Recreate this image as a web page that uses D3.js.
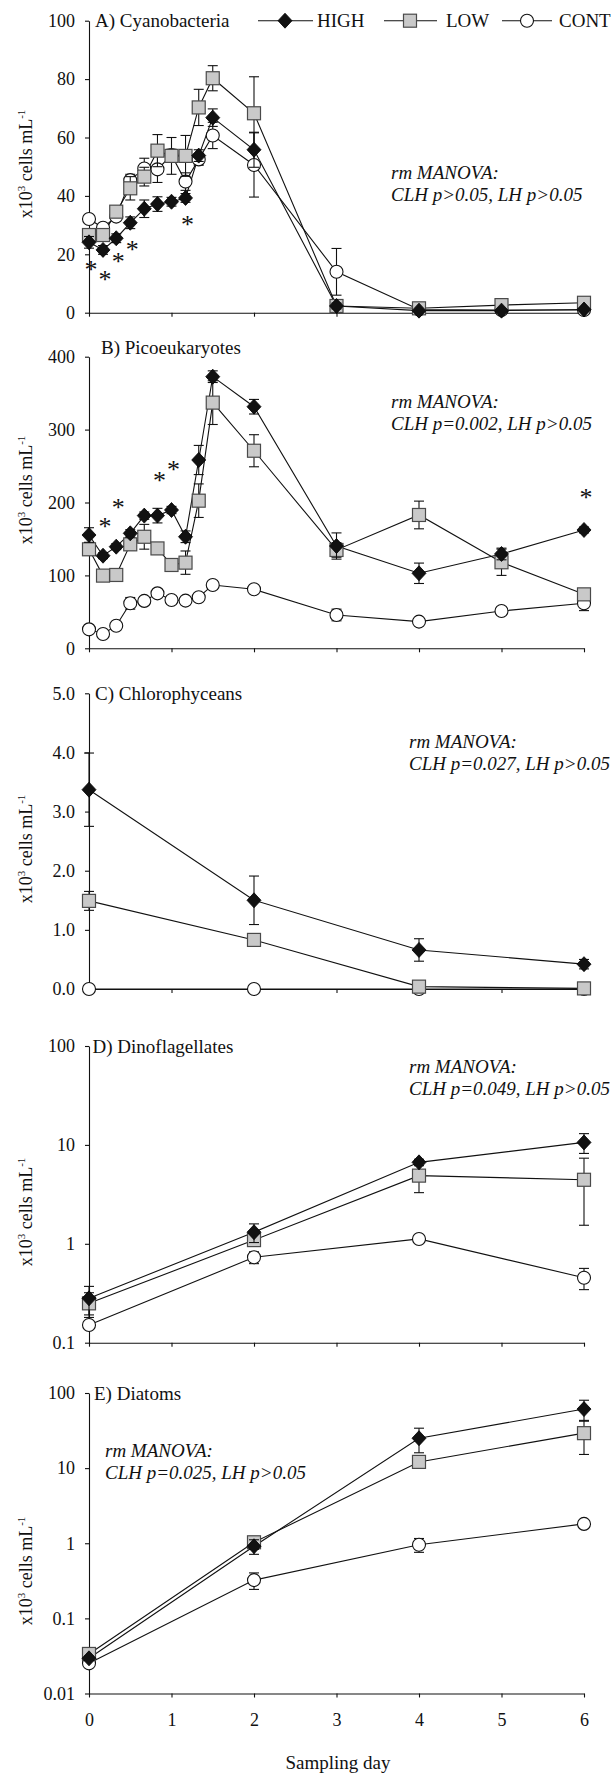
<!DOCTYPE html>
<html>
<head>
<meta charset="utf-8">
<script src="https://cdn.jsdelivr.net/npm/d3@7"></script>
<style>
  body { margin: 0; background: #fff; }
  svg { display: block; font-family: "Liberation Serif", "Times New Roman", serif; }
</style>
</head>
<body>
<svg width="614" height="1777"></svg>
<script>
// sampling times (days)
var daysFine = [0, 0.17, 0.33, 0.5, 0.67, 0.83, 1.0, 1.17, 1.33, 1.5, 2, 3, 4, 5, 6];
var daysCoarse = [0, 2, 4, 6];
var dayTicks = [0, 1, 2, 3, 4, 5, 6];

// A) Cyanobacteria, x10^3 cells/mL
var cyanoHigh    = [24.1, 21.5, 25.5, 30.8, 35.6, 37.2, 38.0, 39.3, 53.8, 66.8, 55.8, 2.3, 0.7, 0.7, 1.1];
var cyanoHighErr = [2, 1.5, 1.5, 2, 3, 2.5, 1.5, 1.5, 2, 3, 6, 1, 0.3, 0.3, 0.5];
var cyanoLow     = [26.6, 26.6, 34.6, 42.6, 46.6, 55.5, 53.7, 53.7, 70.3, 80.3, 68.3, 2.3, 1.5, 2.6, 3.4];
var cyanoLowErr  = [2, 2, 1.5, 4, 3.2, 5.5, 6.3, 7, 6.2, 4.3, 12.5, 1, 0.5, 0.5, 0.5];
var cyanoCont    = [32.1, 29.1, 32.9, 45.4, 49.4, 49.1, 54.0, 44.9, 52.5, 60.7, 50.6, 14.0, 1.1, 0.9, 0.9];
var cyanoContErr = [1, 1, 1, 2, 3.5, 4.5, 2, 3, 2, 4.5, 11, 8, 0.3, 0.3, 0.3];
var cyanoStars   = [[0, 16.3], [0.17, 12.9], [0.33, 19.1], [0.5, 23.2], [1.17, 31.7]];

// B) Picoeukaryotes
var picoHigh    = [155.4, 127, 139.4, 157.7, 182, 182, 189.7, 153, 258.3, 372.6, 331.4, 140.3, 102.9, 129.4, 162.3];
var picoHighErr = [10, 4, 4, 5, 5, 10, 5, 8, 20, 8, 10, 18, 14, 8, 4];
var picoLow     = [135.8, 99.7, 100.6, 142.6, 153, 137, 114.3, 117.5, 202.5, 337, 271, 134.9, 182.9, 118, 74];
var picoLowErr  = [8, 4, 4, 8, 17, 8, 5, 16, 23, 30, 22, 10, 19, 18, 6];
var picoCont    = [26, 19.7, 31, 61.7, 65, 75.4, 66.3, 65.4, 70, 86.9, 80.9, 45.7, 36.6, 51.2, 61.7];
var picoContErr = [2, 2, 2, 8, 3, 3, 3, 3, 3, 3, 3, 8, 3, 3, 10];
var picoStars   = [[0.17, 173.7], [0.33, 199.3], [0.83, 235.7], [1.0, 251.7], [6, 212.6]];

// C) Chlorophyceans
var chloroHigh    = [3.37, 1.5, 0.66, 0.42];
var chloroHighErr = [0.62, 0.41, 0.19, 0.08];
var chloroLow     = [1.49, 0.83, 0.04, 0.01];
var chloroLowErr  = [0.16, 0.03, 0.01, 0.01];
var chloroCont    = [0, 0, 0, 0];
var chloroContErr = [0, 0, 0, 0];

// D) Dinoflagellates
var dinoHigh    = [0.281, 1.31, 6.66, 10.6];
var dinoHighErr = [0.09, 0.28, 0.5, 2.4];
var dinoLow     = [0.25, 1.09, 4.89, 4.44];
var dinoLowErr  = [0.07, 0.1, 1.6, 2.9];
var dinoCont    = [0.151, 0.73, 1.12, 0.454];
var dinoContErr = [0.01, 0.1, 0.05, 0.11];

// E) Diatoms
var diatHigh    = [0.0294, 0.912, 25.0, 61.1];
var diatHighErr = [0.002, 0.2, 9, 19];
var diatLow     = [0.0336, 1.03, 12.1, 29.2];
var diatLowErr  = [0.003, 0.2, 1, 14];
var diatCont    = [0.0252, 0.323, 0.957, 1.81];
var diatContErr = [0.002, 0.08, 0.2, 0.1];

var linTicksA = [0, 20, 40, 60, 80, 100];
var linTicksB = [0, 100, 200, 300, 400];
var linTicksC = [0, 1, 2, 3, 4, 5];
var logTicksD = [0.1, 1, 10, 100];
var logTicksE = [0.01, 0.1, 1, 10, 100];

var svg = d3.select("svg");
var FONT = "Liberation Serif";
var x = d3.scaleLinear().domain([0, 6]).range([89, 584]);

var logFmt = function(d) { return d >= 1 ? d3.format("d")(d) : String(d); };

var panels = [
  { title: "A) Cyanobacteria", titleX: 95, titleY: 26.5,
    y: d3.scaleLinear().domain([0, 100]).range([312.7, 20.7]), ticks: linTicksA, fmt: d3.format("d"),
    days: daysFine, high: cyanoHigh, highErr: cyanoHighErr, low: cyanoLow, lowErr: cyanoLowErr, cont: cyanoCont, contErr: cyanoContErr,
    stars: cyanoStars, stat: "CLH p>0.05, LH p>0.05", statX: 391, statY: 179, yTitle: 164 },
  { title: "B) Picoeukaryotes", titleX: 101, titleY: 353.5,
    y: d3.scaleLinear().domain([0, 400]).range([648.3, 356.7]), ticks: linTicksB, fmt: d3.format("d"),
    days: daysFine, high: picoHigh, highErr: picoHighErr, low: picoLow, lowErr: picoLowErr, cont: picoCont, contErr: picoContErr,
    stars: picoStars, stat: "CLH p=0.002, LH p>0.05", statX: 391, statY: 408, yTitle: 490 },
  { title: "C) Chlorophyceans", titleX: 95, titleY: 700,
    y: d3.scaleLinear().domain([0, 5]).range([989, 693.3]), ticks: linTicksC, fmt: d3.format(".1f"),
    days: daysCoarse, high: chloroHigh, highErr: chloroHighErr, low: chloroLow, lowErr: chloroLowErr, cont: chloroCont, contErr: chloroContErr,
    stars: [], stat: "CLH p=0.027, LH p>0.05", statX: 409, statY: 748, yTitle: 849 },
  { title: "D) Dinoflagellates", titleX: 92.5, titleY: 1052.5,
    y: d3.scaleLog().domain([0.1, 100]).range([1342.7, 1046]), ticks: logTicksD, fmt: logFmt,
    days: daysCoarse, high: dinoHigh, highErr: dinoHighErr, low: dinoLow, lowErr: dinoLowErr, cont: dinoCont, contErr: dinoContErr,
    stars: [], stat: "CLH p=0.049, LH p>0.05", statX: 409, statY: 1073, yTitle: 1212 },
  { title: "E) Diatoms", titleX: 94, titleY: 1399.5,
    y: d3.scaleLog().domain([0.01, 100]).range([1693.5, 1393]), ticks: logTicksE, fmt: logFmt,
    days: daysCoarse, high: diatHigh, highErr: diatHighErr, low: diatLow, lowErr: diatLowErr, cont: diatCont, contErr: diatContErr,
    stars: [], stat: "CLH p=0.025, LH p>0.05", statX: 105, statY: 1457, yTitle: 1571, xLabels: true }
];

function diamondPath(cx, cy) {
  return "M" + cx + "," + (cy - 7.5) + "L" + (cx + 7) + "," + cy + "L" + cx + "," + (cy + 7.5) + "L" + (cx - 7) + "," + cy + "Z";
}

function drawMarker(g, kind, cx, cy) {
  if (kind == "high") {
    g.append("path").attr("d", diamondPath(cx, cy)).attr("fill", "#111").attr("stroke", "#000").attr("stroke-width", 0.8);
  } else if (kind == "low") {
    g.append("rect").attr("x", cx - 6.5).attr("y", cy - 6.5).attr("width", 13).attr("height", 13)
      .attr("fill", "#c9c9c9").attr("stroke", "#4a4a4a").attr("stroke-width", 1.2);
  } else {
    g.append("circle").attr("cx", cx).attr("cy", cy).attr("r", 6.5)
      .attr("fill", "#fff").attr("stroke", "#111").attr("stroke-width", 1.1);
  }
}

panels.forEach(function(p) {
  var g = svg.append("g");
  var y = p.y;
  var yMin = y.domain()[0];

  // axes
  var xa = g.append("g").attr("transform", "translate(0," + y.range()[0] + ")")
    .call(d3.axisBottom(x).tickValues(dayTicks).tickSize(4).tickSizeOuter(0).tickPadding(16)
      .tickFormat(p.xLabels ? d3.format("d") : ""));
  xa.attr("font-family", FONT).attr("font-size", 18);
  var ya = g.append("g").attr("transform", "translate(" + x(0) + ",0)")
    .call(d3.axisLeft(y).tickValues(p.ticks).tickSize(4).tickSizeOuter(0).tickPadding(10).tickFormat(p.fmt));
  ya.attr("font-family", FONT).attr("font-size", 18);
  g.selectAll(".domain, .tick line").attr("stroke", "#111").attr("stroke-width", 1.1);
  g.selectAll(".tick text").attr("fill", "#111");

  // y title
  var yt = g.append("text").attr("transform", "translate(32," + p.yTitle + ") rotate(-90)")
    .attr("text-anchor", "middle").attr("font-size", 18).attr("fill", "#111");
  yt.append("tspan").text("x10");
  yt.append("tspan").attr("font-size", 11).attr("dy", -7).text("3");
  yt.append("tspan").attr("dy", 7).text(" cells mL");
  yt.append("tspan").attr("font-size", 11).attr("dy", -7).text("-1");

  // panel title
  g.append("text").attr("x", p.titleX).attr("y", p.titleY).attr("font-size", 19).attr("fill", "#111").text(p.title);

  // stats
  var st = g.append("text").attr("font-size", 19).attr("font-style", "italic").attr("fill", "#111");
  st.append("tspan").attr("x", p.statX).attr("y", p.statY).text("rm MANOVA:");
  st.append("tspan").attr("x", p.statX).attr("y", p.statY + 22).text(p.stat);

  var series = [
    { kind: "cont", vals: p.cont, errs: p.contErr },
    { kind: "low", vals: p.low, errs: p.lowErr },
    { kind: "high", vals: p.high, errs: p.highErr }
  ];

  var line = d3.line().x(function(d) { return x(d[0]); }).y(function(d) { return y(d[1]); });

  series.forEach(function(s) {
    var pts = p.days.map(function(d, i) { return [d, s.vals[i], s.errs[i]]; });
    g.append("path").datum(pts).attr("d", line).attr("fill", "none").attr("stroke", "#111").attr("stroke-width", 1.1);
  });

  series.forEach(function(s) {
    var sg = g.append("g");
    p.days.forEach(function(d, i) {
      var v = s.vals[i], e = s.errs[i];
      var cx = x(d);
      if (e > 0) {
        var top = y(v + e);
        var bot = y(Math.max(v - e, yMin));
        sg.append("line").attr("x1", cx).attr("x2", cx).attr("y1", top).attr("y2", bot).attr("stroke", "#111").attr("stroke-width", 1.1);
        sg.append("line").attr("x1", cx - 5).attr("x2", cx + 5).attr("y1", top).attr("y2", top).attr("stroke", "#111").attr("stroke-width", 1.1);
        if (v - e > yMin) {
          sg.append("line").attr("x1", cx - 5).attr("x2", cx + 5).attr("y1", bot).attr("y2", bot).attr("stroke", "#111").attr("stroke-width", 1.1);
        }
      }
      drawMarker(sg, s.kind, cx, y(v));
    });
  });

  // significance asterisks
  p.stars.forEach(function(s) {
    g.append("text").attr("x", x(s[0]) + 2).attr("y", y(s[1]) + 13)
      .attr("text-anchor", "middle").attr("font-size", 26).attr("fill", "#111").text("*");
  });
});

// legend (top of panel A)
var legend = [
  { kind: "high", label: "HIGH", x1: 258, x2: 313, mx: 285, tx: 317 },
  { kind: "low", label: "LOW", x1: 384, x2: 437, mx: 410, tx: 446 },
  { kind: "cont", label: "CONT", x1: 502, x2: 552, mx: 527, tx: 559 }
];
var lg = svg.append("g");
legend.forEach(function(l) {
  lg.append("line").attr("x1", l.x1).attr("x2", l.x2).attr("y1", 20.7).attr("y2", 20.7).attr("stroke", "#111").attr("stroke-width", 1.1);
  drawMarker(lg, l.kind, l.mx, 20.7);
  lg.append("text").attr("x", l.tx).attr("y", 27).attr("font-size", 19).attr("fill", "#111").text(l.label);
});

// x axis title
svg.append("text").attr("x", 338).attr("y", 1769).attr("text-anchor", "middle")
  .attr("font-size", 19).attr("fill", "#111").text("Sampling day");
</script>
</body>
</html>
